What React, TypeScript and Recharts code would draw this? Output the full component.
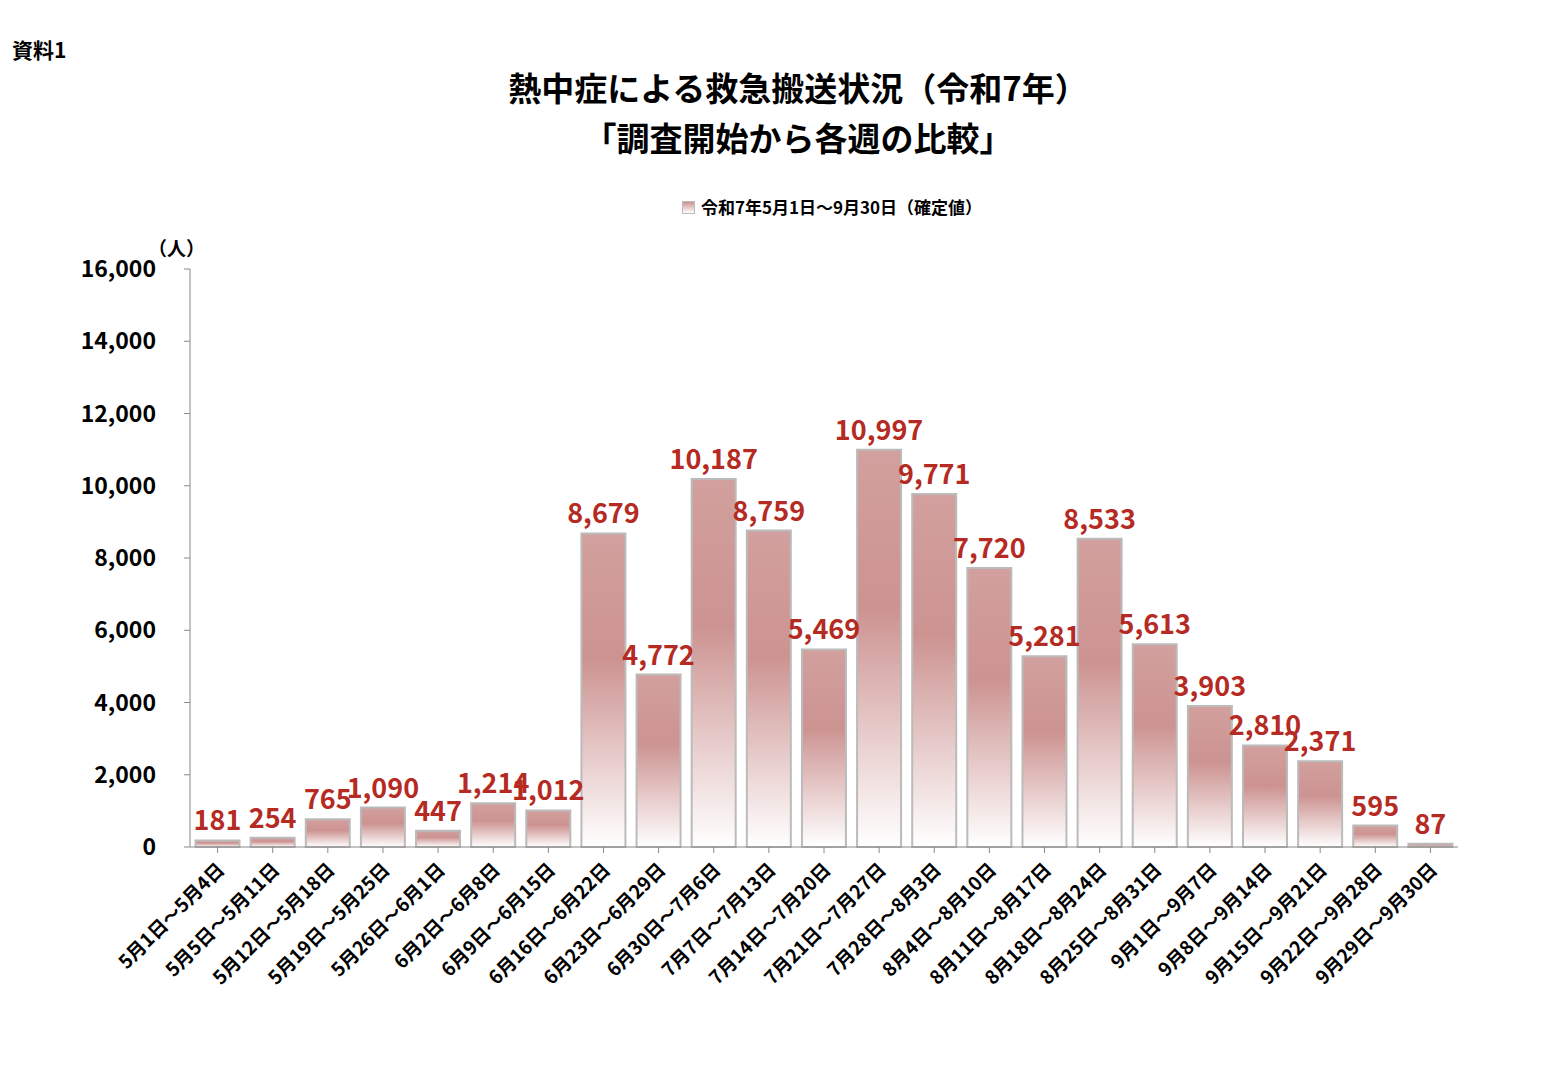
import { Bar, BarChart, CartesianGrid, LabelList, XAxis, YAxis } from "recharts";

const weeks = [
  "5月1日～5月4日", "5月5日～5月11日", "5月12日～5月18日", "5月19日～5月25日",
  "5月26日～6月1日", "6月2日～6月8日", "6月9日～6月15日", "6月16日～6月22日",
  "6月23日～6月29日", "6月30日～7月6日", "7月7日～7月13日", "7月14日～7月20日",
  "7月21日～7月27日", "7月28日～8月3日", "8月4日～8月10日", "8月11日～8月17日",
  "8月18日～8月24日", "8月25日～8月31日", "9月1日～9月7日", "9月8日～9月14日",
  "9月15日～9月21日", "9月22日～9月28日", "9月29日～9月30日",
];
const counts = [
  181, 254, 765, 1090, 447, 1214, 1012, 8679, 4772, 10187, 8759, 5469,
  10997, 9771, 7720, 5281, 8533, 5613, 3903, 2810, 2371, 595, 87,
];
const yTicks = [0, 2000, 4000, 6000, 8000, 10000, 12000, 14000, 16000];

const data = weeks.map((w, i) => ({ week: w, value: counts[i] }));
const FONT = '"Noto Sans CJK JP", "Noto Sans", sans-serif';

const XTick = (props: any) => {
  const { x, y, payload } = props;
  return (
    <text
      x={x + 8}
      y={y + 16}
      transform={`rotate(-45, ${x + 8}, ${y + 16})`}
      textAnchor="end"
      fontSize={19}
      fontWeight={700}
      fill="#000"
      fontFamily={FONT}
    >
      {payload.value}
    </text>
  );
};

export default function App() {
  return (
    <div style={{ position: "relative", width: 1536, height: 1050, fontFamily: FONT, background: "#fff" }}>
      <div style={{ position: "absolute", left: 4, top: 26, fontSize: 21, fontWeight: 700 }}>資料1</div>
      <div style={{ position: "absolute", left: 0, width: 1580, top: 54, textAlign: "center", fontSize: 33, fontWeight: 700, lineHeight: "50px" }}>
        熱中症による救急搬送状況（令和7年）
        <br />
        「調査開始から各週の比較」
      </div>
      <div style={{ position: "absolute", left: 0, width: 1648, top: 186, textAlign: "center", fontSize: 17, fontWeight: 700 }}>
        <span style={{ display: "inline-block", width: 11, height: 11, marginRight: 6, background: "linear-gradient(#cc9391, #fff)", border: "1px solid #bbb" }} />
        令和7年5月1日～9月30日（確定値）
      </div>
      <div style={{ position: "absolute", left: 140, top: 226, fontSize: 19, fontWeight: 700 }}>（人）</div>
      <BarChart
        width={1536}
        height={1050}
        data={data}
        margin={{ top: 261, right: 86, bottom: 0, left: 72 }}
        barCategoryGap="10%"
      >
        <defs>
          <linearGradient id="barFill" x1="0" y1="0" x2="0" y2="1">
            <stop offset="0%" stopColor="#d2a09e" />
            <stop offset="40%" stopColor="#cc9391" />
            <stop offset="100%" stopColor="#ffffff" />
          </linearGradient>
        </defs>
        <CartesianGrid stroke="none" />
        <XAxis
          dataKey="week"
          interval={0}
          tick={<XTick />}
          height={211}
          stroke="#888"
          tickSize={6}
        />
        <YAxis
          domain={[0, 16000]}
          ticks={yTicks}
          width={110}
          stroke="#888"
          tickSize={6}
          tickMargin={28}
          tickFormatter={(v: number) => v.toLocaleString("en-US")}
          tick={{ fontSize: 23, fontWeight: 700, fill: "#000", fontFamily: FONT }}
        />
        <Bar dataKey="value" fill="url(#barFill)" stroke="#bbbbbb" strokeWidth={2} isAnimationActive={false}>
          <LabelList
            dataKey="value"
            position="top"
            offset={10}
            formatter={(v: any) => Number(v).toLocaleString("en-US")}
            style={{ fontSize: 27, fontWeight: 700, fill: "#b52a22", fontFamily: FONT }}
          />
        </Bar>
      </BarChart>
    </div>
  );
}
